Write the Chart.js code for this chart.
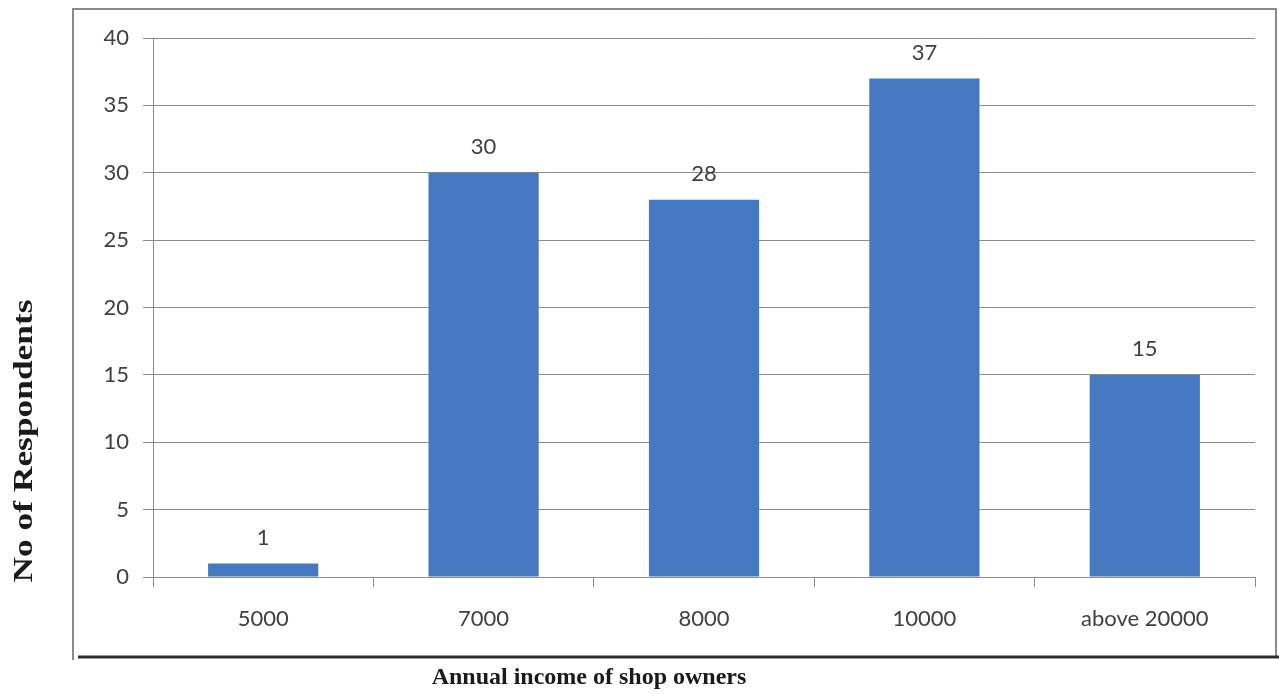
<!DOCTYPE html>
<html>
<head>
<meta charset="utf-8">
<title>Annual income of shop owners</title>
<script src="https://cdn.jsdelivr.net/npm/chart.js@4.4.1/dist/chart.umd.min.js"></script>
<style>
  html, body { margin: 0; padding: 0; background: #fff; }
  #wrap { width: 1279px; height: 698px; position: relative; }
</style>
</head>
<body>
<div id="wrap"><canvas id="incomeChart"></canvas></div>
<script>
const incomeLabels = ["5000", "7000", "8000", "10000", "above 20000"];
const respondents = [1, 30, 28, 37, 15];
const yTicks = { min: 0, max: 40, step: 5 };
const xTitle = "Annual income of shop owners";
const yTitle = "No of Respondents";

const tickFont = { family: "Lato, 'Open Sans', sans-serif", size: 22 };
const titleFamily = "'Liberation Serif', 'Times New Roman', serif";
const gridGray = "#8c8c8c";

// frame around the plot, open at the bottom-left corner like a pasted office chart
const framePlugin = {
  id: "frame",
  beforeDraw(chart) {
    const { ctx, chartArea } = chart;
    const left = chartArea.left - 80, top = chartArea.top - 29;
    const right = chartArea.right + 21, bottom = chartArea.bottom + 80;
    ctx.save();
    ctx.strokeStyle = "#8a8a8a";
    ctx.lineWidth = 2;
    ctx.beginPath();
    ctx.moveTo(left, bottom + 3);
    ctx.lineTo(left, top);
    ctx.lineTo(right, top);
    ctx.lineTo(right, bottom);
    ctx.stroke();
    ctx.strokeStyle = "#2e2e2e";
    ctx.lineWidth = 3;
    ctx.beginPath();
    ctx.moveTo(left + 5, bottom);
    ctx.lineTo(chart.width, bottom);
    ctx.stroke();
    ctx.restore();
  }
};

// axis captions sit outside the frame, off-centre from the plot
const captions = {
  id: "captions",
  afterDraw(chart) {
    const { ctx, chartArea } = chart;
    ctx.save();
    ctx.fillStyle = "#1a1a1a";
    ctx.textAlign = "center";
    ctx.textBaseline = "middle";
    ctx.font = `bold 24px ${titleFamily}`;
    ctx.fillText(xTitle, chartArea.left + 436, chartArea.bottom + 101);
    ctx.translate(chartArea.left - 128, chartArea.top + 403);
    ctx.rotate(-Math.PI / 2);
    ctx.scale(1.31, 1);
    ctx.font = `bold 27px ${titleFamily}`;
    ctx.fillText(yTitle, 0, 0);
    ctx.restore();
  }
};

// value printed above each bar
const valueLabels = {
  id: "valueLabels",
  afterDatasetsDraw(chart) {
    const { ctx } = chart;
    const meta = chart.getDatasetMeta(0);
    ctx.save();
    ctx.font = `${tickFont.size}px ${tickFont.family}`;
    ctx.fillStyle = "#404040";
    ctx.textAlign = "center";
    ctx.textBaseline = "middle";
    meta.data.forEach((bar, i) => {
      ctx.fillText(String(respondents[i]), bar.x, bar.y - 26);
    });
    ctx.restore();
  }
};

new Chart(document.getElementById("incomeChart"), {
  type: "bar",
  data: {
    labels: incomeLabels,
    datasets: [{
      data: respondents,
      backgroundColor: "#4579c2",
      borderWidth: 0,
      categoryPercentage: 1,
      barPercentage: 0.5
    }]
  },
  options: {
    responsive: true,
    maintainAspectRatio: false,
    animation: false,
    layout: { padding: { top: 38, right: 24, bottom: 0, left: 0 } },
    plugins: {
      legend: { display: false },
      tooltip: { enabled: false }
    },
    scales: {
      x: {
        grid: {
          offset: true,
          drawOnChartArea: false,
          drawTicks: true,
          tickLength: 10,
          color: gridGray
        },
        border: { color: gridGray, width: 1 },
        ticks: { font: tickFont, color: "#404040", padding: 19, maxRotation: 0 },
        afterFit(scale) { scale.height = 121; }
      },
      y: {
        min: yTicks.min,
        max: yTicks.max,
        grid: { color: gridGray, tickLength: 10 },
        border: { color: gridGray, width: 1 },
        ticks: { stepSize: yTicks.step, font: tickFont, color: "#404040", padding: 14 },
        afterFit(scale) { scale.width = 153; }
      }
    }
  },
  plugins: [framePlugin, valueLabels, captions]
});
</script>
</body>
</html>
